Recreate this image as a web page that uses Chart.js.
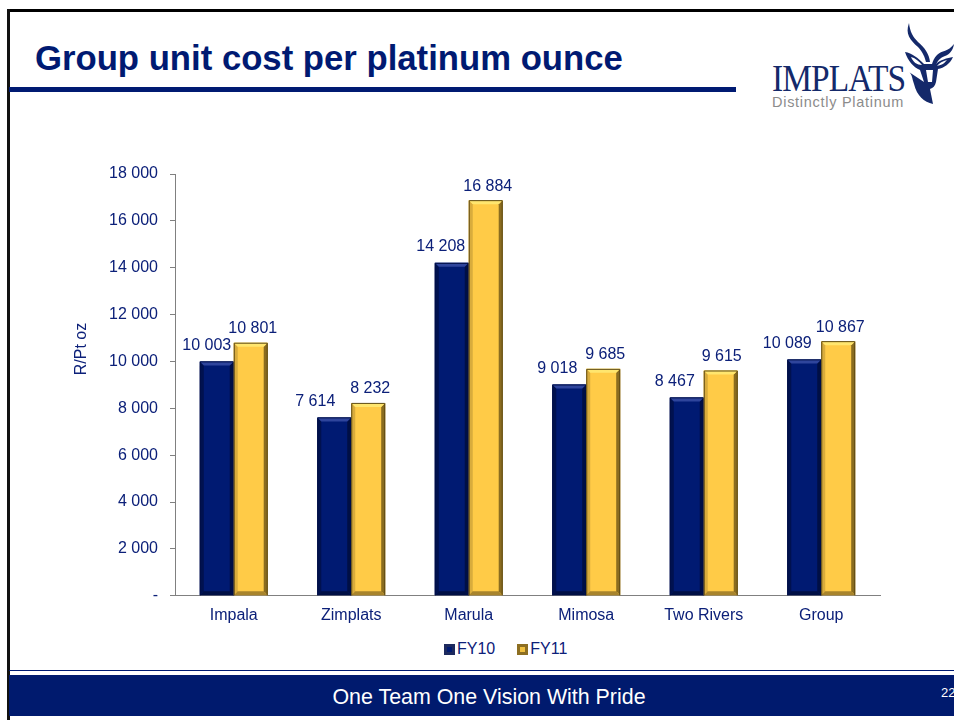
<!DOCTYPE html>
<html>
<head>
<meta charset="utf-8">
<title>Group unit cost per platinum ounce</title>
<script src="https://cdn.jsdelivr.net/npm/chart.js@4"></script>
<style>
  html, body { margin: 0; padding: 0; background: #fff; }
  body { width: 954px; height: 720px; position: relative; overflow: hidden; font-family: "Liberation Sans", Arial, sans-serif; }
  .abs { position: absolute; }
  #topLine { left: 8px; top: 9px; width: 946px; height: 3px; background: #000; }
  #leftLine { left: 7px; top: 9px; width: 3px; height: 711px; background: #111; }
  #title { left: 35px; top: 38px; font-size: 34.7px; line-height: 40px; font-weight: bold; color: #001a72; white-space: nowrap; }
  #titleRule { left: 9px; top: 87px; width: 727px; height: 5px; background: #001a72; }
  #footLine { left: 9px; top: 670px; width: 945px; height: 1px; background: #001a72; }
  #footBand { left: 9px; top: 675px; width: 945px; height: 41px; background: #001a6e; }
  #footText { left: 9px; top: 685px; width: 960px; text-align: center; color: #fff; font-size: 21.4px; line-height: 24px; }
  #pageNo { left: 941px; top: 685px; color: #fff; font-size: 13px; line-height: 16px; }
  #logoText { left: 772px; top: 58px; font-family: "Liberation Serif", serif; font-size: 38px; line-height: 40px; color: #14296a; transform: scaleX(.88); transform-origin: left top; letter-spacing: -1px; }
  #logoSub { left: 772px; top: 95px; font-size: 14.5px; line-height: 15px; color: #8c8c8c; letter-spacing: .72px; }
  #kudu { left: 900px; top: 20px; }
  #chartBox { left: 60px; top: 150px; width: 892px; height: 477px; }
  #legend { left: 444px; top: 640px; display: flex; color: #0c2079; font-size: 16px; line-height: 18px; }
  #legend .item { display: flex; align-items: center; margin-right: 22px; }
  #legend .swatch { width: 5px; height: 5px; border: 3px solid; margin-right: 2px; }
</style>
</head>
<body>
<div class="abs" id="topLine"></div>
<div class="abs" id="leftLine"></div>
<div class="abs" id="title">Group unit cost per platinum ounce</div>
<div class="abs" id="titleRule"></div>
<div class="abs" id="logoText">IMPLATS</div>
<div class="abs" id="logoSub">Distinctly Platinum</div>
<svg class="abs" id="kudu" width="54" height="86" viewBox="0 0 54 86">
  <path d="M9 3 C5 14 10 20 18 27 C23 32 25 38 26 42 L30 42 C29 34 25 28 18 22 C13 17 10 12 9 3 Z" fill="#14296a"/>
  <path d="M54 24 C48 32 42 30 37 35 C34 38 33 41 32 44 L36 45 C38 40 40 38 45 36 C50 34 53 30 54 24 Z" fill="#14296a"/>
  <path d="M5 32 C12 33 18 38 24 44 L29 44 L36 44 C40 40 47 38 53 37 C50 44 44 48 38 49 L36 62 C35 66 33 68 30 69 L33 84 C24 82 17 76 14 64 C12 58 12 54 9 52 L18 58 L24 62 L20 50 C13 47 8 41 5 32 Z" fill="#14296a"/>
  <path d="M11 37 C15 38 19 41 22 45 C17 45 13 42 11 37 Z M47 40 C44 44 41 45 37 46 C39 43 43 41 47 40 Z M26 50 L33 50 L32 62 L28 62 Z" fill="#fff"/>
</svg>
<div class="abs" id="footLine"></div>
<div class="abs" id="footBand"></div>
<div class="abs" id="footText">One Team One Vision With Pride</div>
<div class="abs" id="pageNo">22</div>
<div class="abs" id="chartBox"><canvas id="chartCost"></canvas></div>
<div class="abs" id="legend"></div>

<script>
const categories = ["Impala", "Zimplats", "Marula", "Mimosa", "Two Rivers", "Group"];
const fy10 = [10003, 7614, 14208, 9018, 8467, 10089];
const fy11 = [10801, 8232, 16884, 9685, 9615, 10867];
const yTicks = [0, 2000, 4000, 6000, 8000, 10000, 12000, 14000, 16000, 18000];

// where the value labels sit relative to their bar, as on the slide
const labelShift10 = [-10, -19, -11, -12, -12, -17];
const labelShift11 = [2, 2, 2, 2, 1, 2];

const NAVY = "#001a72";
const GOLD = "#ffcb47";
const TEXT = "#0c2079";
const FONT = "'Liberation Sans', Arial, sans-serif";

function spaced(n){
  if(n === 0) return "-";
  return String(n).replace(/\B(?=(\d{3})+$)/g, " ");
}

// bevel on each bar, PowerPoint style
const bevelPlugin = {
  id: "bevel",
  afterDatasetsDraw(chart){
    const ctx = chart.ctx;
    const looks = [
      { top: "#2f459c", left: "#00114f", right: "#000f45", bottom: "#000f45", edge: "#000f45" },
      { top: "#ffe66e", left: "#d9ac3c", right: "#8a6c20", bottom: "#a8842c", edge: "#5d4a16" }
    ];
    chart.data.datasets.forEach((ds, i) => {
      const look = looks[i];
      chart.getDatasetMeta(i).data.forEach(bar => {
        const l = bar.x - bar.width / 2, r = bar.x + bar.width / 2;
        const t = bar.y, b = bar.base, e = 4;
        ctx.save();
        ctx.fillStyle = look.left;
        ctx.beginPath(); ctx.moveTo(l, t); ctx.lineTo(l + e, t + e); ctx.lineTo(l + e, b - e); ctx.lineTo(l, b); ctx.fill();
        ctx.fillStyle = look.right;
        ctx.beginPath(); ctx.moveTo(r, t); ctx.lineTo(r - e, t + e); ctx.lineTo(r - e, b - e); ctx.lineTo(r, b); ctx.fill();
        ctx.fillStyle = look.top;
        ctx.beginPath(); ctx.moveTo(l, t); ctx.lineTo(r, t); ctx.lineTo(r - e, t + e); ctx.lineTo(l + e, t + e); ctx.fill();
        ctx.fillStyle = look.bottom;
        ctx.beginPath(); ctx.moveTo(l, b); ctx.lineTo(r, b); ctx.lineTo(r - e, b - e); ctx.lineTo(l + e, b - e); ctx.fill();
        ctx.strokeStyle = look.edge;
        ctx.lineWidth = 1;
        ctx.beginPath();
        ctx.moveTo(l + .5, b); ctx.lineTo(l + .5, t + .5); ctx.lineTo(r - .5, t + .5); ctx.lineTo(r - .5, b);
        ctx.stroke();
        ctx.restore();
      });
    });
  }
};

const valueLabelPlugin = {
  id: "valueLabels",
  afterDraw(chart){
    const ctx = chart.ctx;
    ctx.save();
    ctx.font = "16px " + FONT;
    ctx.fillStyle = TEXT;
    ctx.textAlign = "center";
    ctx.textBaseline = "middle";
    chart.data.datasets.forEach((ds, i) => {
      const shift = i === 0 ? labelShift10 : labelShift11;
      const lift = i === 0 ? 16 : 14;
      chart.getDatasetMeta(i).data.forEach((bar, j) => {
        ctx.fillText(spaced(ds.data[j]), bar.x + shift[j], bar.y - lift);
      });
    });
    // axis title sits above the middle of the axis on the slide
    ctx.translate(22, 199);
    ctx.rotate(-Math.PI / 2);
    ctx.fillText("R/Pt oz", 0, 0);
    ctx.restore();
  }
};

const chart = new Chart(document.getElementById("chartCost"), {
  type: "bar",
  data: {
    labels: categories,
    datasets: [
      { label: "FY10", data: fy10, backgroundColor: NAVY, borderWidth: 0 },
      { label: "FY11", data: fy11, backgroundColor: GOLD, borderWidth: 0 }
    ]
  },
  options: {
    responsive: true,
    maintainAspectRatio: false,
    animation: false,
    layout: { padding: { left: 0, right: 72, top: 24, bottom: 0 } },
    datasets: { bar: { categoryPercentage: 0.578, barPercentage: 1 } },
    plugins: {
      tooltip: { enabled: false },
      legend: { display: false }
    },
    scales: {
      x: {
        grid: { display: false },
        border: { color: "#808080", width: 1 },
        ticks: { color: TEXT, padding: 2, maxRotation: 0, font: { family: FONT, size: 16 } }
      },
      y: {
        min: 0,
        max: 18000,
        afterBuildTicks(axis){ axis.ticks = yTicks.map(v => ({ value: v })); },
        afterFit(axis){ axis.width = 115; },
        grid: { drawOnChartArea: false, drawTicks: true, tickLength: 5, color: "#808080" },
        border: { color: "#808080", width: 1 },
        ticks: {
          color: TEXT,
          padding: 12,
          font: { family: FONT, size: 16 },
          callback: v => spaced(v)
        }
      }
    }
  },
  plugins: [bevelPlugin, valueLabelPlugin]
});

// legend
const swatches = [["#001a72", "#1d2a5e"], ["#f0c040", "#8d6f22"]];
const legendEl = document.getElementById("legend");
chart.data.datasets.forEach((ds, i) => {
  legendEl.insertAdjacentHTML("beforeend",
    `<div class="item"><span class="swatch" style="background:${swatches[i][0]};border-color:${swatches[i][1]}"></span>${ds.label}</div>`
  );
});
</script>
</body>
</html>
